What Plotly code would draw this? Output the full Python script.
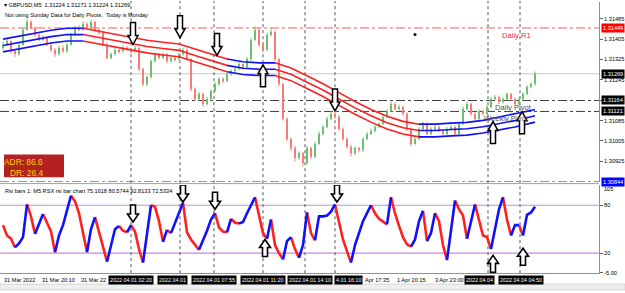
import plotly.graph_objects as go

FIG_W, FIG_H = 625, 293
BASE = 1.30000
PT = 0.00001

# ---------------- price data (points above 1.30000) ----------------
first_open_pts = 1370
close_pts = [1384, 1396, 1357, 1345, 1384, 1442, 1473, 1450, 1423, 1403,
             1411, 1384, 1364, 1345, 1372, 1357, 1384, 1423, 1450, 1442,
             1466, 1450, 1473, 1442, 1431, 1384, 1333, 1345, 1364, 1357,
             1372, 1364, 1357, 1372, 1287, 1228, 1256, 1318, 1345, 1333,
             1345, 1318, 1333, 1326, 1345, 1364, 1326, 1209, 1170, 1189,
             1151, 1170, 1201, 1228, 1248, 1240, 1267, 1279, 1287, 1306,
             1294, 1326, 1403, 1442, 1384, 1364, 1423, 1434, 1326, 1228,
             1092, 1014, 976, 937, 956, 917, 976, 944, 995, 1034,
             1061, 1092, 1112, 1100, 1053, 1014, 983, 956, 976, 968,
             1014, 1034, 1046, 1061, 1073, 1100, 1123, 1151, 1131, 1139,
             1112, 1053, 995, 1014, 1053, 1073, 1034, 1053, 1061, 1046,
             1034, 1053, 1061, 1034, 1073, 1131, 1151, 1112, 1092, 1123,
             1112, 1139, 1170, 1178, 1158, 1170, 1189, 1170, 1151, 1170,
             1189, 1217, 1228, 1269]
high_pts = [1395, 1405, 1400, 1362, 1390, 1450, 1485, 1480, 1455, 1428,
            1420, 1415, 1390, 1370, 1378, 1380, 1392, 1430, 1458, 1460,
            1475, 1472, 1482, 1478, 1450, 1436, 1390, 1352, 1372, 1370,
            1380, 1378, 1368, 1378, 1376, 1292, 1262, 1324, 1352, 1350,
            1352, 1350, 1340, 1338, 1352, 1372, 1368, 1330, 1215, 1198,
            1194, 1178, 1208, 1236, 1255, 1256, 1274, 1286, 1295, 1314,
            1310, 1334, 1410, 1455, 1448, 1392, 1430, 1450, 1440, 1332,
            1234, 1098, 1020, 985, 965, 962, 985, 982, 1002, 1042,
            1068, 1100, 1122, 1118, 1106, 1058, 1020, 990, 984, 982,
            1020, 1040, 1054, 1068, 1080, 1108, 1130, 1160, 1156, 1148,
            1144, 1118, 1058, 1022, 1060, 1080, 1078, 1060, 1068, 1066,
            1052, 1060, 1068, 1066, 1080, 1140, 1160, 1156, 1118, 1130,
            1128, 1146, 1178, 1186, 1184, 1178, 1196, 1194, 1176, 1178,
            1196, 1225, 1236, 1278]
low_pts = [1362, 1378, 1350, 1335, 1340, 1380, 1438, 1444, 1415, 1396,
           1398, 1378, 1355, 1335, 1340, 1350, 1352, 1380, 1418, 1436,
           1438, 1444, 1446, 1436, 1424, 1378, 1325, 1326, 1340, 1350,
           1352, 1358, 1350, 1352, 1280, 1220, 1222, 1250, 1312, 1326,
           1328, 1310, 1312, 1318, 1320, 1340, 1320, 1200, 1160, 1164,
           1140, 1144, 1164, 1196, 1222, 1232, 1235, 1260, 1272, 1282,
           1286, 1290, 1320, 1398, 1376, 1356, 1360, 1416, 1318, 1220,
           1085, 1005, 965, 925, 930, 905, 912, 935, 938, 990,
           1028, 1055, 1086, 1092, 1045, 1006, 975, 945, 950, 960,
           962, 1008, 1028, 1040, 1055, 1068, 1095, 1118, 1124, 1125,
           1105, 1045, 985, 990, 1008, 1046, 1028, 1028, 1046, 1040,
           1026, 1028, 1046, 1026, 1030, 1068, 1125, 1105, 1085, 1088,
           1105, 1106, 1134, 1164, 1150, 1152, 1164, 1162, 1144, 1146,
           1164, 1184, 1212, 1222]
open_pts = [first_open_pts] + close_pts[:-1]

# ---------------- moving-average band (centre, points) ----------------
ma_idx = [0, 4, 8, 12, 16, 20, 24, 28, 32, 36, 40, 44, 48, 52, 56, 60, 64, 68,
          72, 76, 80, 84, 88, 92, 96, 100, 104, 108, 112, 116, 120, 124, 128, 132, 133]
ma_pts = [1380, 1392, 1403, 1415, 1423, 1423, 1411, 1399, 1388, 1376, 1368, 1361,
          1341, 1322, 1302, 1291, 1287, 1287, 1267, 1236, 1205, 1170, 1135, 1104,
          1077, 1057, 1046, 1046, 1050, 1053, 1061, 1073, 1085, 1100, 1104]
ma_band_pts = 25
# colour state of each MA segment: 1 = rising (blue), 0 = falling (red)
ma_state = [1, 1, 1, 1, 1, 0, 0, 0, 0, 0, 0, 0, 0, 0, 1, 1, 1, 0, 0, 0, 0, 0, 0,
            0, 0, 0, 1, 1, 1, 1, 1, 1, 1, 1]

# ---------------- RSX oscillator ----------------
rsi = [55, 42, 38, 27, 32, 40, 81, 66, 44, 57, 69, 58, 47, 21, 42, 55, 75, 92, 85, 70,
       46, 21, 50, 65, 45, 28, 9, 30, 50, 54, 48, 46, 55, 47, 25, 8, 45, 80, 78, 60,
       34, 49, 45, 58, 72, 83, 46, 37, 30, 24, 35, 48, 62, 70, 52, 47, 46, 63, 58, 57,
       59, 70, 80, 90, 68, 45, 38, 62, 30, 20, 12, 35, 40, 25, 14, 30, 71, 45, 36, 66,
       66, 67, 72, 81, 58, 37, 22, 8, 30, 45, 60, 70, 80, 70, 63, 60, 56, 90, 70, 54,
       40, 31, 28, 37, 60, 73, 35, 45, 70, 60, 30, 11, 50, 86, 75, 67, 38, 60, 81, 60,
       42, 40, 25, 50, 75, 90, 62, 42, 55, 55, 42, 68, 71, 78]
rsi_levels = [80, 20]

# ---------------- levels / signals / labels ----------------
level_prices = [1.31449, 1.31269, 1.31164, 1.31121, 1.30844]
level_names = ["Daily R1", "", "Daily Pivot", "Weekly Pivot", ""]
level_name_idx = [124.3, None, 122.5, 119.8, None]

vline_idx = [32, 44.25, 52.75, 65, 75.5, 83, 121.25, 129.25]

# time-axis texts as they are visible (anchor index, text, anchor side, boxed)
time_lbl_idx = [0, 9.5, 19.3, 32, 38.6, 52.75, 65, 76.75, 82.8, 90.3, 98.3, 107.8, 115.3, 129.4]
time_lbl_text = ["31 Mar 2022", "31 Mar 20:10", "31 Mar 22", "2022.04.01 02:20", "2022.04.01",
                 "2022.04.01 07:55", "2022.04.01 11:20", "2022.04.01 14:10", "4.01 16:10",
                 "Apr 17:35", "1 Apr 20:15", "3 Apr 23:00", "2022.04.04", "2022.04.04 04:50"]
time_lbl_anchor = ["left", "left", "left", "center", "left", "center", "center", "center",
                   "left", "left", "left", "left", "left", "center"]
time_lbl_boxed = [0, 0, 0, 1, 1, 1, 1, 1, 1, 0, 0, 0, 1, 1]

price_arrow_idx = [32.5, 44.25, 53.5, 65, 83, 122.5, 129.75]
price_arrow_pts = [1384, 1411, 1341, 1304, 1123, 1081, 1120]
arrow_dir = ["down", "down", "down", "up", "down", "up", "up"]
rsi_arrow_idx = [32.5, 45, 53, 65.5, 83.5, 122.5, 130]
rsi_arrow_val = [59, 84, 75, 37, 84, 17, 26]

dot_idx = [103]
dot_pts = [1423]

price_ticks = [1.30925, 1.31005, 1.31085, 1.31165, 1.31245, 1.31325, 1.31405, 1.31485]
rsi_ticks = [80, 20, -5]
rsi_tick_text = ["80", "20", "-5.00"]
rsi_max_text = "105"

header1 = "▾ GBPUSD,M5  1.31224 1.31271 1.31224 1.31269"
header2 = "Not using Sunday Data for Daily Pivots.  Today is Monday"
rsi_header = "Rsi bars 1: M5 RSX rsi bar chart 75.1618 80.5744 92.8133 72.5334"
adr_text = "ADR: 86.6"
dr_text = "DR: 26.4"

# ---------------- helpers ----------------
def p(v):
    return BASE + v * PT

def py(pix):  # pixel y -> paper y
    return 1 - pix / FIG_H

def px(pix):
    return pix / FIG_W

FONT = "Liberation Sans"
SMALL = 5.6
BOXF = 5.4
RED = "#ff2020"
BLUE = "#1010ff"
UP_C = "#6cc06c"
DN_C = "#ff7878"

idx = list(range(len(close_pts)))
fig = go.Figure()

# candles: wicks as line segments, bodies as thin bars
wick = {"u": ([], []), "d": ([], [])}
body_base, body_h, body_col = [], [], []
for i, o, h, l, c in zip(idx, open_pts, high_pts, low_pts, close_pts):
    k = "u" if c >= o else "d"
    wick[k][0].extend([i, i, None])
    wick[k][1].extend([p(l), p(h), None])
    lo, hi = min(o, c), max(o, c)
    body_base.append(p(lo))
    body_h.append(max(hi - lo, 2) * PT)
    body_col.append(UP_C if k == "u" else DN_C)
for k, col in (("u", UP_C), ("d", DN_C)):
    fig.add_trace(go.Scatter(x=wick[k][0], y=wick[k][1], mode="lines",
                             line=dict(color=col, width=1), xaxis="x", yaxis="y",
                             hoverinfo="skip"))
fig.add_trace(go.Bar(x=idx, y=body_h, base=body_base, width=0.5,
                     marker=dict(color=body_col, line=dict(width=0)),
                     xaxis="x", yaxis="y", hoverinfo="skip"))

# MA band, split in colour runs
runs = []
start = 0
for k in range(1, len(ma_state) + 1):
    if k == len(ma_state) or ma_state[k] != ma_state[start]:
        runs.append((start, k, ma_state[start]))
        start = k
for s, e, st in runs:
    xs = ma_idx[s:e + 1]
    col = BLUE if st == 1 else RED
    for off in (-ma_band_pts, 0, ma_band_pts):
        fig.add_trace(go.Scatter(x=xs, y=[p(v + off) for v in ma_pts[s:e + 1]],
                                 mode="lines", line=dict(color=col, width=1.6),
                                 xaxis="x", yaxis="y", hoverinfo="skip"))

fig.add_trace(go.Scatter(x=dot_idx, y=[p(v) for v in dot_pts], mode="markers",
                         marker=dict(color="black", size=3), xaxis="x", yaxis="y"))

# RSI coloured by direction
rx = {"r": [], "b": []}
ry = {"r": [], "b": []}
j = 0
n = len(rsi)
while j < n - 1:
    c = "b" if rsi[j + 1] >= rsi[j] else "r"
    k = j
    while k < n - 1 and ("b" if rsi[k + 1] >= rsi[k] else "r") == c:
        k += 1
    rx[c] += list(range(j, k + 1)) + [None]
    ry[c] += rsi[j:k + 1] + [None]
    j = k
for c, col in (("r", RED), ("b", BLUE)):
    fig.add_trace(go.Scatter(x=rx[c], y=ry[c], mode="lines",
                             line=dict(color=col, width=2.6),
                             xaxis="x", yaxis="y2", hoverinfo="skip"))

shapes = []
annotations = []

# RSI levels
for lv in rsi_levels:
    shapes.append(dict(type="line", xref="x domain", x0=0, x1=1, yref="y2", y0=lv, y1=lv,
                       line=dict(color="#c48ae0", width=1.2), layer="below"))

# price levels
level_style = [("#ff5a5a", "dashdot"), ("#c8c8c8", "solid"), ("#404040", "dashdot"),
               ("#404040", "dashdot"), ("#3030ff", "dashdot")]
level_box = ["#ff0000", "#000000", "#000000", "#000000", "#0000ff"]
for lvp, (col, dash) in zip(level_prices, level_style):
    shapes.append(dict(type="line", xref="x domain", x0=0, x1=1, yref="y", y0=lvp, y1=lvp,
                       line=dict(color=col, width=1, dash=dash), layer="below"))
for lvp, name, ni, col in zip(level_prices, level_names, level_name_idx,
                              ["#e03030", "", "#505050", "#505050", ""]):
    if name:
        annotations.append(dict(x=ni, y=lvp, xref="x", yref="y", text=name, showarrow=False,
                                xanchor="left", yanchor="top", yshift=-1,
                                font=dict(family=FONT, size=7.6, color=col)))

# vertical dotted lines across both panels
for vi in vline_idx:
    shapes.append(dict(type="line", xref="x", x0=vi, x1=vi, yref="paper",
                       y0=py(276), y1=py(1), line=dict(color="#555555", width=1, dash="dot"),
                       layer="below"))

# arrows
def arrow_path(direction, w, h, shaft, head):
    s = 1 if direction == "down" else -1
    pts = [(-shaft, h), (shaft, h), (shaft, head), (w, head), (0, 0), (-w, head), (-shaft, head)]
    return "M " + " L ".join(f"{x},{s * y}" for x, y in pts) + " Z"

for ai, ap, d in zip(price_arrow_idx, price_arrow_pts, arrow_dir):
    shapes.append(dict(type="path", xref="x", yref="y", xsizemode="pixel", ysizemode="pixel",
                       xanchor=ai, yanchor=p(ap), path=arrow_path(d, 5, 22, 2.5, 9),
                       fillcolor="white", line=dict(color="black", width=1.5), layer="above"))
for ai, av, d in zip(rsi_arrow_idx, rsi_arrow_val, arrow_dir):
    shapes.append(dict(type="path", xref="x", yref="y2", xsizemode="pixel", ysizemode="pixel",
                       xanchor=ai, yanchor=av, path=arrow_path(d, 5.5, 17, 2.5, 8),
                       fillcolor="white", line=dict(color="black", width=1.6), layer="above"))

# ADR box
shapes.append(dict(type="rect", xref="paper", yref="paper", x0=px(4), x1=px(64),
                   y0=py(179), y1=py(156), fillcolor="#b22222", line=dict(width=0)))
annotations.append(dict(x=px(44.5), y=py(163.5), xref="paper", yref="paper", text=adr_text,
                        showarrow=False, xanchor="right", yanchor="middle",
                        font=dict(family=FONT, size=8.4, color="#ffd400")))
annotations.append(dict(x=px(44.5), y=py(174.5), xref="paper", yref="paper", text=dr_text,
                        showarrow=False, xanchor="right", yanchor="middle",
                        font=dict(family=FONT, size=8.4, color="#ffd400")))

# panel separator
shapes.append(dict(type="line", xref="paper", yref="paper", x0=0, x1=px(599), y0=py(185.5),
                   y1=py(185.5), line=dict(color="#a0a0a0", width=1)))
# bottom tab strip
shapes.append(dict(type="rect", xref="paper", yref="paper", x0=0, x1=1, y0=0, y1=py(287),
                   fillcolor="#efefef", line=dict(color="#b8b8b8", width=0.5)))

# header texts
annotations.append(dict(x=px(2), y=py(5), xref="paper", yref="paper", text=header1,
                        showarrow=False, xanchor="left", yanchor="middle",
                        font=dict(family=FONT, size=SMALL, color="black")))
annotations.append(dict(x=px(3), y=py(15), xref="paper", yref="paper", text=header2,
                        showarrow=False, xanchor="left", yanchor="middle",
                        font=dict(family=FONT, size=SMALL, color="black")))
annotations.append(dict(x=px(3), y=py(193), xref="paper", yref="paper", text=rsi_header,
                        showarrow=False, xanchor="left", yanchor="middle",
                        font=dict(family=FONT, size=SMALL, color="black")))
annotations.append(dict(x=px(602), y=py(191), xref="paper", yref="paper", text=rsi_max_text,
                        showarrow=False, xanchor="left", yanchor="middle",
                        font=dict(family=FONT, size=SMALL, color="black")))

# right-axis boxed price labels
for lvp, bc in zip(level_prices, level_box):
    annotations.append(dict(x=px(600.5), y=lvp, xref="paper", yref="y", text=f"{lvp:.5f}",
                            showarrow=False, xanchor="left", yanchor="middle",
                            bgcolor=bc, borderpad=1,
                            font=dict(family=FONT, size=SMALL, color="white")))

# time axis labels
for ti, tt, ta, tb in zip(time_lbl_idx, time_lbl_text, time_lbl_anchor, time_lbl_boxed):
    annotations.append(dict(x=ti, y=py(282.5), xref="x", yref="paper", text=tt, showarrow=False,
                            xanchor=ta, yanchor="middle",
                            bgcolor="black" if tb else None, borderpad=1 if tb else 0,
                            font=dict(family=FONT, size=BOXF if tb else SMALL,
                                      color="white" if tb else "black")))

axis_common = dict(showgrid=False, zeroline=False, fixedrange=True)
fig.update_layout(
    width=FIG_W, height=FIG_H, margin=dict(l=0, r=0, t=0, b=0),
    paper_bgcolor="white", plot_bgcolor="white", showlegend=False, bargap=0,
    xaxis=dict(domain=[0, px(599)], range=[-0.75, 149], anchor="y2", showticklabels=False,
               showline=True, linecolor="#909090", linewidth=1, ticks="", **axis_common),
    yaxis=dict(domain=[py(184), py(2)], range=[1.308433, 1.315511], side="right", anchor="x",
               tickvals=price_ticks, ticktext=[f"{v:.5f}" for v in price_ticks],
               ticks="outside", ticklen=3, tickcolor="#606060",
               tickfont=dict(family=FONT, size=SMALL, color="black"),
               showline=True, linecolor="#909090", linewidth=1, **axis_common),
    yaxis2=dict(domain=[py(276), py(187)], range=[-5.3, 105.3], side="right", anchor="x",
                tickvals=rsi_ticks, ticktext=rsi_tick_text,
                ticks="outside", ticklen=3, tickcolor="#606060",
                tickfont=dict(family=FONT, size=SMALL, color="black"),
                showline=True, linecolor="#909090", linewidth=1, **axis_common),
    shapes=shapes, annotations=annotations,
)

fig.write_html("out.html")
